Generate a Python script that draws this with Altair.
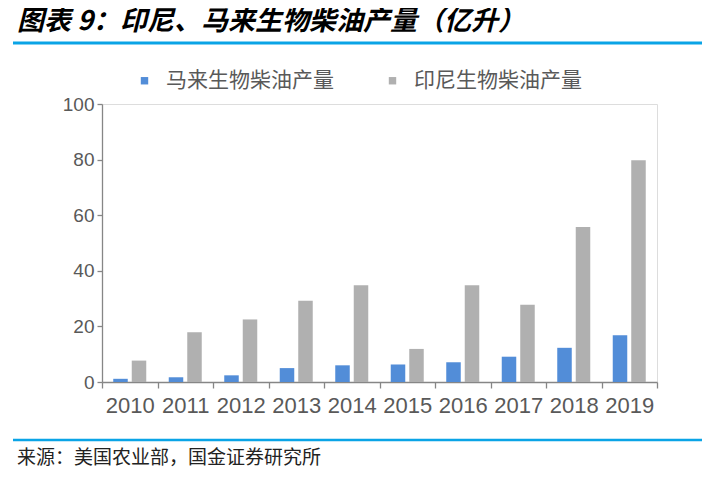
import altair as alt
import pandas as pd

years = ["2010", "2011", "2012", "2013", "2014", "2015", "2016", "2017", "2018", "2019"]
series_names = ["马来生物柴油产量", "印尼生物柴油产量"]
malaysia = [1.15, 1.7, 2.4, 5.0, 6.0, 6.3, 7.1, 9.1, 12.3, 16.8]
indonesia = [7.7, 17.9, 22.5, 29.2, 34.8, 11.9, 34.8, 27.8, 55.8, 79.8]
y_ticks = [0, 20, 40, 60, 80, 100]
title_text = "图表 9：印尼、马来生物柴油产量（亿升）"
source_text = "来源：美国农业部，国金证券研究所"

rows = []
for i, y in enumerate(years):
    rows.append({"year": y, "series": series_names[0], "value": malaysia[i]})
    rows.append({"year": y, "series": series_names[1], "value": indonesia[i]})
df = pd.DataFrame(rows)

CJK = "Noto Sans CJK SC"
LAT = "Liberation Sans"
BLUE = "#528DD8"
GRAY = "#B0B0B0"
LINE = "#0AA4E6"
AX = "#868686"
TXT = "#595959"

W, H = 555, 278

bars = alt.Chart(df).mark_bar().encode(
    x=alt.X("year:N", sort=years,
            scale=alt.Scale(paddingInner=0, paddingOuter=0),
            axis=alt.Axis(title=None, tickBand="extent", labelAngle=0,
                          labelFont=LAT, labelFontSize=22, labelColor=TXT,
                          domainColor=AX, tickColor=AX, tickSize=6,
                          labelPadding=7, domainWidth=1.3, tickWidth=1.3)),
    xOffset=alt.XOffset("series:N", sort=series_names,
                        scale=alt.Scale(paddingInner=0.216, paddingOuter=0.608)),
    y=alt.Y("value:Q", scale=alt.Scale(domain=[0, 100]),
            axis=alt.Axis(title=None, values=y_ticks, grid=False,
                          labelFont=LAT, labelFontSize=19, labelColor=TXT,
                          domainColor=AX, tickColor=AX, tickSize=5,
                          labelPadding=3, domainWidth=1.3, tickWidth=1.3)),
    color=alt.Color("series:N", sort=series_names,
                    scale=alt.Scale(domain=series_names, range=[BLUE, GRAY]),
                    legend=alt.Legend(orient="none", legendX=32, legendY=-34,
                                      direction="horizontal", title=None,
                                      symbolType="square", symbolSize=55,
                                      symbolStrokeWidth=0, labelLimit=0,
                                      labelFont=CJK, labelFontSize=21,
                                      labelColor=TXT, labelOffset=11,
                                      columnPadding=48)),
)

one = pd.DataFrame({"t": [title_text], "s": [source_text]})

top_line = alt.Chart(one).mark_rule(color=LINE, strokeWidth=3).encode(
    x=alt.value(-89), x2=alt.value(600), y=alt.value(-101.5))
mid_line = alt.Chart(one).mark_rule(color=LINE, strokeWidth=3).encode(
    x=alt.value(-89), x2=alt.value(600), y=alt.value(-61))
bot_line = alt.Chart(one).mark_rule(color=LINE, strokeWidth=2.5).encode(
    x=alt.value(-89), x2=alt.value(600), y=alt.value(336))

title = alt.Chart(one).mark_text(align="left", baseline="middle", font=CJK,
                                 fontSize=27, fontWeight="bold",
                                 fontStyle="italic", color="#000000").encode(
    x=alt.value(-85), y=alt.value(-82), text="t:N")
source = alt.Chart(one).mark_text(align="left", baseline="middle", font=CJK,
                                  fontSize=19, color="#222222").encode(
    x=alt.value(-85), y=alt.value(354), text="s:N")

chart = alt.layer(bars, top_line, mid_line, bot_line, title, source).properties(
    width=W, height=H,
    autosize=alt.AutoSizeParams(type="none"),
    padding={"left": 94, "top": 96, "right": 45, "bottom": 91},
).configure_view(stroke=None).configure(background="#ffffff")

chart.save("out.html", embed_options={"renderer": "svg", "actions": False})
